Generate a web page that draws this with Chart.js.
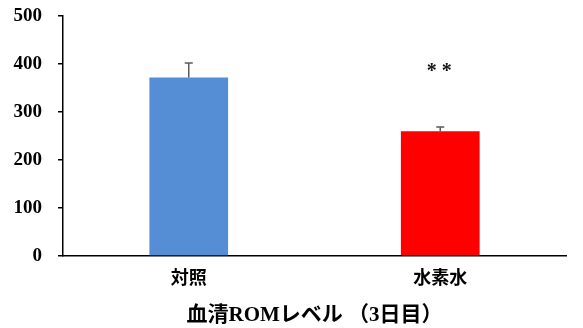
<!DOCTYPE html>
<html>
<head>
<meta charset="utf-8">
<script src="https://cdn.jsdelivr.net/npm/chart.js@4/dist/chart.umd.min.js"></script>
<style>
  html, body { margin: 0; padding: 0; background: #ffffff; }
  #wrap { width: 583px; height: 328px; }
</style>
</head>
<body>
<div id="wrap"><canvas id="c" width="583" height="328"></canvas></div>
<script>
// Serum ROM level on day 3: mean and SD per group
const categories = ['対照', '水素水'];
const meanValues = [372, 260];
const sdValues = [30, 9];
const barColors = ['#558ED5', '#FF0000'];
const yTicks = [0, 100, 200, 300, 400, 500];
const axisTitle = '血清ROMレベル （3日目）';
const significance = [null, '* *'];
const significanceLevel = 390;

const serif = '"Liberation Serif", "Noto Sans CJK JP", serif';

// Error bars (upper whisker with cap) and significance markers
const errorBarPlugin = {
  id: 'errorBars',
  afterDatasetsDraw(chart) {
    const ctx = chart.ctx;
    const meta = chart.getDatasetMeta(0);
    const y = chart.scales.y;
    ctx.save();
    ctx.strokeStyle = '#5a5a5a';
    ctx.lineWidth = 1.5;
    meta.data.forEach((bar, i) => {
      const top = y.getPixelForValue(meanValues[i] + sdValues[i]);
      const base = y.getPixelForValue(meanValues[i]);
      ctx.beginPath();
      ctx.moveTo(bar.x, base);
      ctx.lineTo(bar.x, top);
      ctx.moveTo(bar.x - 4, top);
      ctx.lineTo(bar.x + 4, top);
      ctx.stroke();
      if (significance[i]) {
        ctx.fillStyle = '#111111';
        ctx.font = 'bold 20px ' + serif;
        ctx.textAlign = 'center';
        ctx.textBaseline = 'middle';
        ctx.fillText(significance[i], bar.x - 1, y.getPixelForValue(significanceLevel) + 3);
      }
    });
    ctx.restore();
  }
};

new Chart(document.getElementById('c'), {
  type: 'bar',
  data: {
    labels: categories,
    datasets: [{
      data: meanValues,
      backgroundColor: barColors,
      borderWidth: 0,
      categoryPercentage: 1,
      barPercentage: 0.313
    }]
  },
  options: {
    responsive: false,
    animation: false,
    devicePixelRatio: 1,
    layout: { padding: { top: 16, right: 17, bottom: 0, left: 0 } },
    plugins: { legend: { display: false }, tooltip: { enabled: false } },
    scales: {
      x: {
        grid: { display: false, drawTicks: false },
        border: { color: '#000000', width: 1.5 },
        ticks: {
          color: '#000000',
          padding: 13,
          font: { family: serif, size: 18, weight: 'bold' }
        },
        title: {
          display: true,
          text: axisTitle,
          color: '#000000',
          padding: { top: 6, bottom: 0 },
          font: { family: serif, size: 21, weight: 'bold' }
        },
        afterFit(scale) {
          scale.height = 72;
          scale.paddingLeft = 0;
          scale.paddingRight = 0;
        }
      },
      y: {
        min: 0,
        max: 500,
        afterBuildTicks(scale) { scale.ticks = yTicks.map(v => ({ value: v })); },
        grid: { display: true, drawOnChartArea: false, drawTicks: true, tickLength: 5, color: '#000000', lineWidth: 1.5 },
        border: { color: '#000000', width: 1.5 },
        ticks: {
          color: '#000000',
          padding: 16,
          font: { family: serif, size: 19, weight: 'bold' }
        },
        afterFit(scale) {
          scale.width = 63;
          scale.paddingTop = 0;
          scale.paddingBottom = 0;
        }
      }
    }
  },
  plugins: [errorBarPlugin]
});
</script>
</body>
</html>
